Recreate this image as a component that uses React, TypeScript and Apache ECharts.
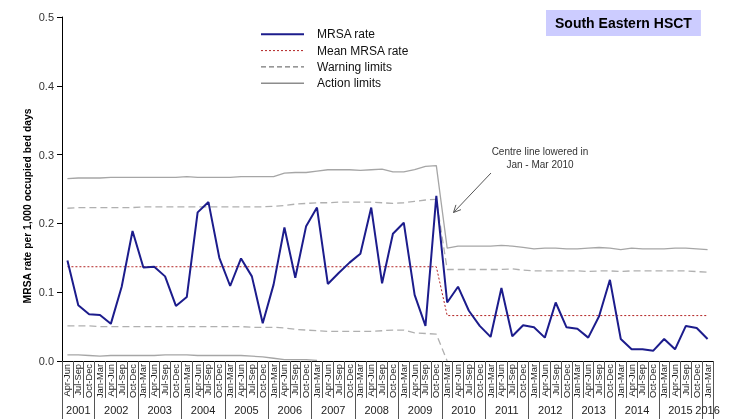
import React, { useEffect, useRef } from "react";
import * as echarts from "echarts";

const FONT = '"Liberation Sans", Arial, sans-serif';

// Tick labels
const quarterNames = ["Jan-Mar", "Apr-Jun", "Jul-Sep", "Oct-Dec"];
const years = ["2001", "2002", "2003", "2004", "2005", "2006", "2007", "2008", "2009", "2010", "2011", "2012", "2013", "2014", "2015", "2016"];
const quartersPerYear = [3, 4, 4, 4, 4, 4, 4, 4, 4, 4, 4, 4, 4, 4, 4, 1];
const firstQuarterOfYear = [1, 0, 0, 0, 0, 0, 0, 0, 0, 0, 0, 0, 0, 0, 0, 0];

// Series values (rate per 1,000 occupied bed days), Apr-Jun 2001 .. Jan-Mar 2016
const mrsaRate = [
  0.146, 0.081, 0.068, 0.067, 0.054, 0.108, 0.189, 0.136, 0.137, 0.123,
  0.080, 0.093, 0.216, 0.231, 0.150, 0.109, 0.149, 0.123, 0.055, 0.111,
  0.194, 0.121, 0.196, 0.223, 0.112, 0.128, 0.143, 0.156, 0.223, 0.113,
  0.185, 0.201, 0.096, 0.051, 0.240, 0.085, 0.108, 0.073, 0.051, 0.035,
  0.106, 0.036, 0.052, 0.049, 0.034, 0.085, 0.049, 0.047, 0.034, 0.065,
  0.118, 0.032, 0.017, 0.017, 0.015, 0.032, 0.017, 0.051, 0.048, 0.032,
];
const meanRate = [
  0.137, 0.137, 0.137, 0.137, 0.137, 0.137, 0.137, 0.137, 0.137, 0.137,
  0.137, 0.137, 0.137, 0.137, 0.137, 0.137, 0.137, 0.137, 0.137, 0.137,
  0.137, 0.137, 0.137, 0.137, 0.137, 0.137, 0.137, 0.137, 0.137, 0.137,
  0.137, 0.137, 0.137, 0.137, 0.137, 0.066, 0.066, 0.066, 0.066, 0.066,
  0.066, 0.066, 0.066, 0.066, 0.066, 0.066, 0.066, 0.066, 0.066, 0.066,
  0.066, 0.066, 0.066, 0.066, 0.066, 0.066, 0.066, 0.066, 0.066, 0.066,
];
const upperWarning = [
  0.222, 0.223, 0.223, 0.223, 0.223, 0.223, 0.223, 0.224, 0.224, 0.224,
  0.224, 0.224, 0.224, 0.224, 0.224, 0.224, 0.224, 0.224, 0.224, 0.225,
  0.226, 0.228, 0.229, 0.230, 0.230, 0.231, 0.231, 0.231, 0.231, 0.230,
  0.229, 0.230, 0.232, 0.234, 0.235, 0.133, 0.133, 0.133, 0.133, 0.133,
  0.133, 0.134, 0.132, 0.131, 0.131, 0.131, 0.131, 0.131, 0.130, 0.131,
  0.131, 0.130, 0.131, 0.131, 0.131, 0.131, 0.131, 0.131, 0.130, 0.129,
];
const lowerWarning = [
  0.051, 0.051, 0.051, 0.050, 0.050, 0.050, 0.050, 0.050, 0.050, 0.050,
  0.050, 0.050, 0.050, 0.050, 0.050, 0.050, 0.050, 0.049, 0.049, 0.049,
  0.048, 0.046, 0.045, 0.044, 0.043, 0.043, 0.043, 0.043, 0.043, 0.044,
  0.045, 0.045, 0.041, 0.040, 0.039, 0.000, null, null, null, null,
  null, null, null, null, null, null, null, null, null, null,
  null, null, null, null, null, null, null, null, null, null,
];
const upperAction = [
  0.265, 0.266, 0.266, 0.266, 0.267, 0.267, 0.267, 0.267, 0.267, 0.267,
  0.267, 0.268, 0.267, 0.267, 0.267, 0.267, 0.268, 0.268, 0.268, 0.268,
  0.273, 0.274, 0.274, 0.276, 0.278, 0.278, 0.278, 0.277, 0.278, 0.279,
  0.275, 0.275, 0.278, 0.283, 0.284, 0.164, 0.167, 0.167, 0.167, 0.167,
  0.168, 0.167, 0.165, 0.163, 0.164, 0.164, 0.163, 0.163, 0.164, 0.165,
  0.164, 0.162, 0.164, 0.163, 0.163, 0.163, 0.164, 0.164, 0.163, 0.162,
];
const lowerAction = [
  0.009, 0.009, 0.008, 0.007, 0.008, 0.008, 0.008, 0.008, 0.008, 0.009,
  0.009, 0.009, 0.008, 0.008, 0.008, 0.008, 0.008, 0.007, 0.006, 0.004,
  0.002, 0.002, 0.002, 0.001, null, null, null, null, null, null,
  null, null, null, null, null, null, null, null, null, null,
  null, null, null, null, null, null, null, null, null, null,
  null, null, null, null, null, null, null, null, null, null,
];

// Build axis categories from the tick label lists
const categories: string[] = [];
years.forEach((_, k) => {
  for (let q = 0; q < quartersPerYear[k]; q++) {
    categories.push(quarterNames[firstQuarterOfYear[k] + q]);
  }
});
const nQ = categories.length; // 60
// Year axis: 2*nQ+1 points at half-quarter boundaries
const yearAxisData: string[] = new Array(2 * nQ + 1).fill("");
const yearTickIdx = new Set<number>();
{
  let s = 0;
  years.forEach((y, k) => {
    const e = s + quartersPerYear[k];
    yearTickIdx.add(2 * s);
    yearAxisData[s + e] = y;
    s = e;
  });
  yearTickIdx.add(2 * nQ);
}

export default function App() {
  const ref = useRef<HTMLDivElement>(null);
  useEffect(() => {
    document.body.style.margin = "0";
    const chart = echarts.init(ref.current!, undefined, { renderer: "svg" });

    const S = [491, 173];
    const E = [453.5, 212.5];
    const dx = E[0] - S[0];
    const dy = E[1] - S[1];
    const len = Math.hypot(dx, dy);
    const ux = dx / len;
    const uy = dy / len;
    const hl = 8;
    const ang = 0.45;
    const rot = (a: number) => [ux * Math.cos(a) - uy * Math.sin(a), ux * Math.sin(a) + uy * Math.cos(a)];
    const r1 = rot(ang);
    const r2 = rot(-ang);

    const lineSeries = (name: string, data: (number | null)[], color: string, width: number, type: any, z: number) => ({
      name,
      type: "line",
      data,
      xAxisIndex: 0,
      symbol: "none",
      smooth: false,
      connectNulls: false,
      z,
      lineStyle: { color, width, type },
      itemStyle: { color },
    });

    const hiddenSymbol = { opacity: 0 };

    chart.setOption({
      animation: false,
      title: {
        text: "South Eastern HSCT",
        left: 546,
        top: 10,
        backgroundColor: "#ccccff",
        padding: [6, 9, 6, 9],
        textStyle: { fontSize: 14, fontWeight: "bold", color: "#000", fontFamily: FONT },
      },
      legend: {
        orient: "vertical",
        left: 260,
        top: 28.3,
        padding: 0,
        itemWidth: 43,
        itemHeight: 14,
        itemGap: 4.3,
        selectedMode: false,
        textStyle: { fontSize: 12, color: "#111", fontFamily: FONT, padding: [0, 0, 0, 8] },
        data: [
          { name: "MRSA rate", itemStyle: hiddenSymbol, lineStyle: { color: "#1c1c8c", width: 2, type: "solid" } },
          { name: "Mean MRSA rate", itemStyle: hiddenSymbol, lineStyle: { color: "#b22222", width: 1, type: [2, 2] } },
          { name: "Warning limits", itemStyle: hiddenSymbol, lineStyle: { color: "#555555", width: 1, type: [5, 3] } },
          { name: "Action limits", itemStyle: hiddenSymbol, lineStyle: { color: "#8c8c8c", width: 1.5, type: "solid" } },
        ],
      },
      grid: { left: 62, right: 22, top: 17, bottom: 58 },
      xAxis: [
        {
          type: "category",
          data: categories,
          boundaryGap: true,
          position: "bottom",
          axisLine: { show: true, lineStyle: { color: "#000", width: 1 } },
          axisTick: { show: true, interval: 0, length: 37, lineStyle: { color: "#555" } },
          axisLabel: { interval: 0, rotate: 90, margin: 3, fontSize: 9.3, color: "#222", fontFamily: FONT },
          splitLine: { show: false },
        },
        {
          type: "category",
          data: yearAxisData,
          boundaryGap: false,
          position: "bottom",
          axisLine: { show: false },
          axisTick: {
            show: true,
            length: 58,
            interval: (i: number) => yearTickIdx.has(i),
            lineStyle: { color: "#555" },
          },
          axisLabel: {
            interval: (_i: number, v: string) => v !== "",
            margin: 43,
            fontSize: 11,
            color: "#222",
            fontFamily: FONT,
          },
          splitLine: { show: false },
        },
      ],
      yAxis: {
        type: "value",
        min: 0,
        max: 0.5,
        interval: 0.1,
        axisLine: { show: true, lineStyle: { color: "#000", width: 1 } },
        axisTick: { show: true, length: 5, lineStyle: { color: "#000" } },
        axisLabel: { formatter: (v: number) => v.toFixed(1), fontSize: 11, color: "#333", margin: 8, fontFamily: FONT },
        splitLine: { show: false },
      },
      series: [
        lineSeries("Action limits", upperAction, "#a6a6a6", 1.3, "solid", 2),
        lineSeries("Action limits", lowerAction, "#a6a6a6", 1.3, "solid", 2),
        lineSeries("Warning limits", upperWarning, "#b0b0b0", 1.3, [7, 4], 2),
        lineSeries("Warning limits", lowerWarning, "#b0b0b0", 1.3, [7, 4], 2),
        lineSeries("Mean MRSA rate", meanRate, "#b22222", 1, [2, 2], 3),
        lineSeries("MRSA rate", mrsaRate, "#1c1c8c", 2, "solid", 4),
      ],
      graphic: [
        {
          type: "text",
          x: 27,
          y: 206,
          rotation: Math.PI / 2,
          style: {
            text: "MRSA rate per 1,000 occupied bed days",
            fontSize: 10.3,
            fontWeight: "bold",
            fill: "#000",
            fontFamily: FONT,
            textAlign: "center",
            textVerticalAlign: "middle",
          },
        },
        {
          type: "text",
          x: 540,
          y: 158,
          style: {
            text: "Centre line lowered in\nJan - Mar 2010",
            fontSize: 10,
            lineHeight: 13,
            fill: "#333",
            fontFamily: FONT,
            textAlign: "center",
            textVerticalAlign: "middle",
          },
        },
        {
          type: "line",
          shape: { x1: S[0], y1: S[1], x2: E[0], y2: E[1] },
          style: { stroke: "#555", lineWidth: 1 },
        },
        {
          type: "polyline",
          shape: {
            points: [
              [E[0] - hl * r1[0], E[1] - hl * r1[1]],
              [E[0], E[1]],
              [E[0] - hl * r2[0], E[1] - hl * r2[1]],
            ],
          },
          style: { stroke: "#555", lineWidth: 1, fill: "none" },
        },
      ],
    });
    return () => chart.dispose();
  }, []);
  return <div ref={ref} style={{ position: "fixed", left: 0, top: 0, width: 735, height: 419 }} />;
}
